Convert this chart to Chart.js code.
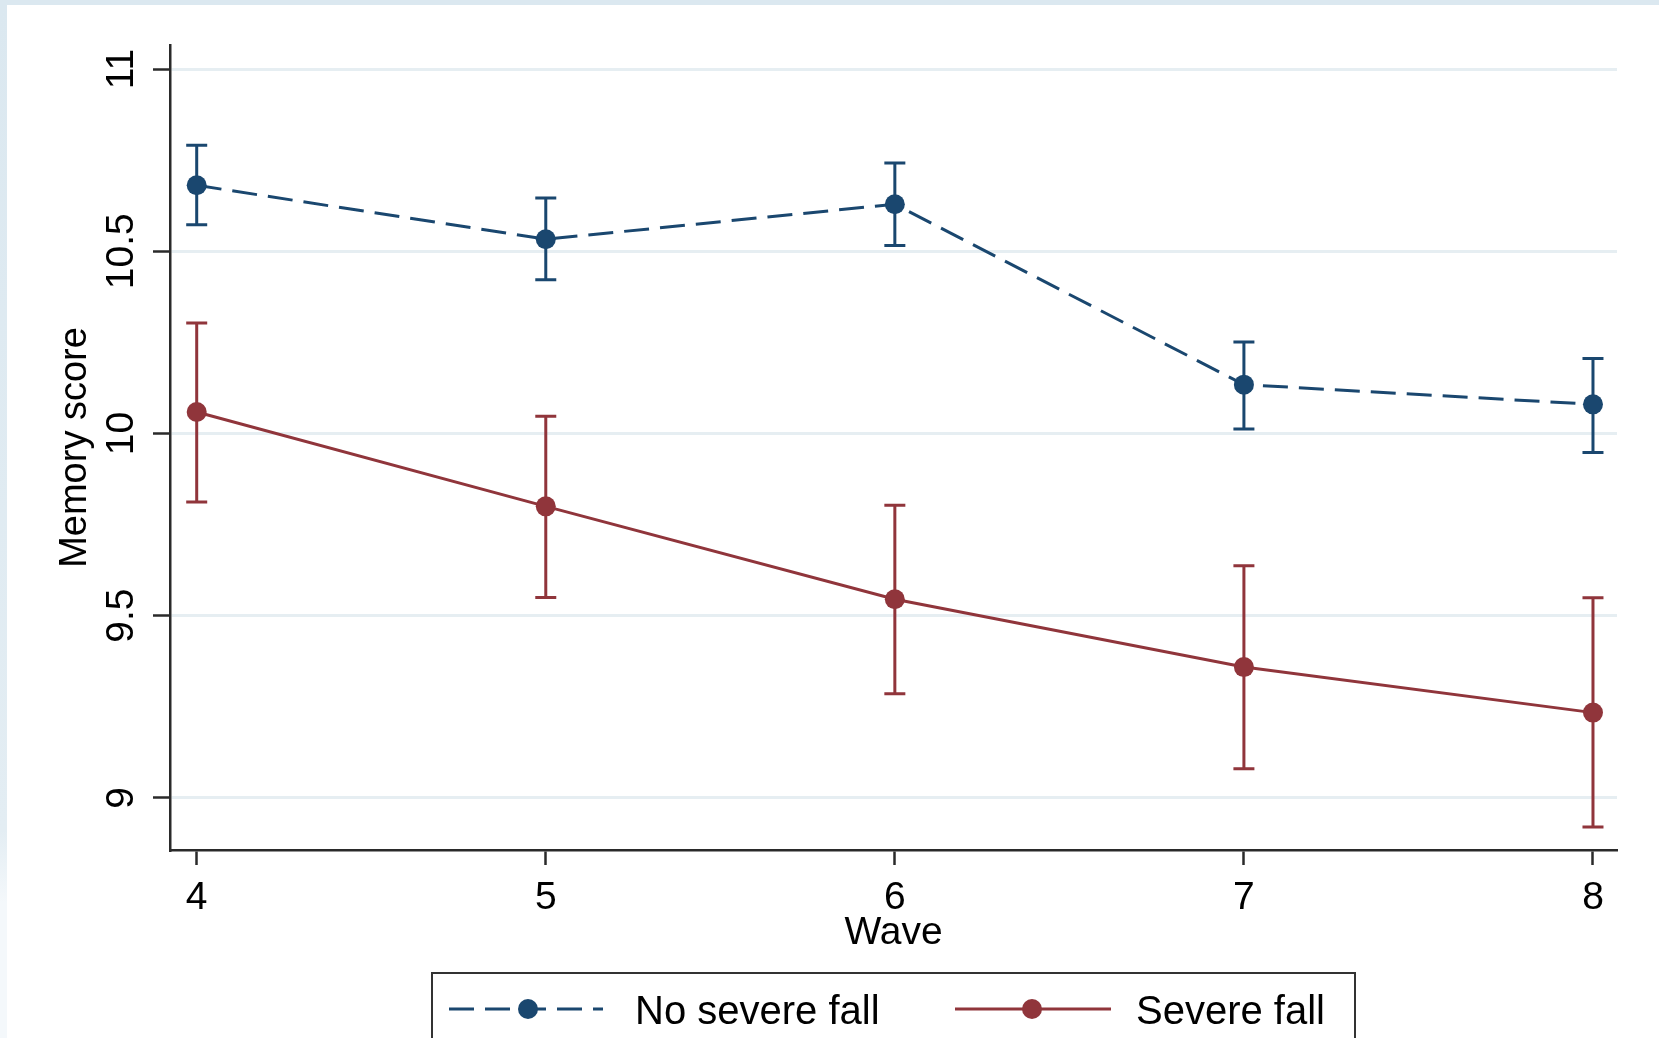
<!DOCTYPE html>
<html>
<head>
<meta charset="utf-8">
<script src="https://cdn.jsdelivr.net/npm/chart.js@4.4.1/dist/chart.umd.min.js"></script>
<style>
  html, body { margin: 0; padding: 0; background: #ffffff; }
  canvas { display: block; }
</style>
</head>
<body>
<canvas id="c" width="1659" height="1038"></canvas>
<script>
// ---- data ----
const waves = [4, 5, 6, 7, 8];
const xTicks = [4, 5, 6, 7, 8];
const yTicks = [9, 9.5, 10, 10.5, 11];
const yTickLabels = ['9', '9.5', '10', '10.5', '11'];

const noFallLabel = 'No severe fall';
const noFallMean  = [10.681, 10.533, 10.629, 10.134, 10.080];
const noFallLower = [10.573, 10.422, 10.516, 10.012, 9.948];
const noFallUpper = [10.791, 10.646, 10.742, 10.251, 10.206];

const fallLabel = 'Severe fall';
const fallMean  = [10.059, 9.800, 9.545, 9.359, 9.234];
const fallLower = [9.812, 9.550, 9.286, 9.080, 8.920];
const fallUpper = [10.303, 10.047, 9.803, 9.637, 9.549];

const xTitle = 'Wave';
const yTitle = 'Memory score';

// ---- styling ----
const NAVY = '#1a476f';
const MAROON = '#90353b';
const FONT = "'Liberation Sans', Arial, sans-serif";
const DASH = [25, 11];

const toPoints = (xs, ys) => xs.map((x, i) => ({ x: x, y: ys[i] }));

const bgPlugin = {
  id: 'bg',
  beforeDraw(chart) {
    const ctx = chart.ctx;
    ctx.save();
    ctx.fillStyle = '#ffffff';
    ctx.fillRect(0, 0, chart.width, chart.height);
    const g = ctx.createLinearGradient(0, 0, 0, chart.height);
    g.addColorStop(0, '#dbe8f0');
    g.addColorStop(0.8, '#e3edf3');
    g.addColorStop(0.87, '#f4f8fb');
    g.addColorStop(1, '#f4f8fb');
    ctx.fillStyle = g;
    ctx.fillRect(0, 0, 7, chart.height);
    ctx.fillStyle = '#dbe8f0';
    ctx.fillRect(0, 0, chart.width, 5);
    ctx.restore();
  }
};

const errorBarPlugin = {
  id: 'errbars',
  beforeDatasetsDraw(chart) {
    const ctx = chart.ctx;
    const xs = chart.scales.x, ys = chart.scales.y;
    const sets = [
      { lo: noFallLower, hi: noFallUpper, color: NAVY },
      { lo: fallLower, hi: fallUpper, color: MAROON }
    ];
    ctx.save();
    ctx.lineWidth = 3;
    ctx.lineCap = 'butt';
    sets.forEach(s => {
      ctx.strokeStyle = s.color;
      waves.forEach((w, i) => {
        const px = xs.getPixelForValue(w);
        const y1 = ys.getPixelForValue(s.lo[i]);
        const y2 = ys.getPixelForValue(s.hi[i]);
        const cap = 10.5;
        ctx.beginPath();
        ctx.moveTo(px, y1); ctx.lineTo(px, y2);
        ctx.moveTo(px - cap, y1); ctx.lineTo(px + cap, y1);
        ctx.moveTo(px - cap, y2); ctx.lineTo(px + cap, y2);
        ctx.stroke();
      });
    });
    ctx.restore();
  }
};

const legendPlugin = {
  id: 'boxLegend',
  afterDraw(chart) {
    const ctx = chart.ctx;
    ctx.save();
    ctx.strokeStyle = '#333333';
    ctx.lineWidth = 2;
    ctx.strokeRect(432, 973, 923, 110);
    const y = 1009;
    const ty = 1013;
    const items = [
      { label: chart.data.datasets[0].label, color: NAVY, dash: DASH, x0: 449, x1: 603, mx: 528, tx: 635 },
      { label: chart.data.datasets[1].label, color: MAROON, dash: [], x0: 955, x1: 1111, mx: 1032, tx: 1136 }
    ];
    items.forEach(it => {
      ctx.strokeStyle = it.color;
      ctx.lineWidth = 3;
      ctx.setLineDash(it.dash);
      ctx.beginPath();
      ctx.moveTo(it.x0, y); ctx.lineTo(it.x1, y);
      ctx.stroke();
      ctx.setLineDash([]);
      ctx.fillStyle = it.color;
      ctx.beginPath();
      ctx.arc(it.mx, y, 10, 0, Math.PI * 2);
      ctx.fill();
      ctx.fillStyle = '#000000';
      ctx.font = '40px ' + FONT;
      ctx.textAlign = 'left';
      ctx.textBaseline = 'middle';
      ctx.fillText(it.label, it.tx, ty);
    });
    ctx.restore();
  }
};

new Chart(document.getElementById('c'), {
  type: 'line',
  data: {
    datasets: [
      {
        label: noFallLabel,
        data: toPoints(waves, noFallMean),
        borderColor: NAVY,
        backgroundColor: NAVY,
        borderWidth: 3,
        borderDash: DASH,
        pointRadius: 10,
        pointBorderWidth: 0,
        pointBackgroundColor: NAVY,
        pointBorderColor: NAVY,
        tension: 0,
        fill: false
      },
      {
        label: fallLabel,
        data: toPoints(waves, fallMean),
        borderColor: MAROON,
        backgroundColor: MAROON,
        borderWidth: 3,
        pointRadius: 10,
        pointBorderWidth: 0,
        pointBackgroundColor: MAROON,
        pointBorderColor: MAROON,
        tension: 0,
        fill: false
      }
    ]
  },
  options: {
    responsive: false,
    animation: false,
    devicePixelRatio: 1,
    layout: { padding: { top: 45, right: 42, bottom: 78, left: 0 }, autoPadding: false },
    plugins: { legend: { display: false }, tooltip: { enabled: false }, title: { display: false } },
    scales: {
      x: {
        type: 'linear',
        min: 3.9235,
        max: 8.0688,
        afterBuildTicks(scale) { scale.ticks = xTicks.map(v => ({ value: v })); },
        afterFit(scale) { scale.height = 110; },
        grid: { drawOnChartArea: false, drawTicks: true, tickLength: 15, tickColor: '#2a2a2a', tickWidth: 2.5 },
        border: { display: true, color: '#2a2a2a', width: 2.5 },
        ticks: {
          color: '#000000',
          font: { family: FONT, size: 39 },
          padding: 10,
          maxRotation: 0,
          minRotation: 0,
          callback: v => String(v)
        },
        title: {
          display: true,
          text: xTitle,
          color: '#000000',
          font: { family: FONT, size: 39 },
          padding: { top: 0, bottom: 3.5 }
        }
      },
      y: {
        type: 'linear',
        min: 8.857,
        max: 11.066,
        afterBuildTicks(scale) { scale.ticks = yTicks.map(v => ({ value: v })); },
        afterFit(scale) { scale.width = 170; },
        grid: { drawOnChartArea: true, color: '#e6eef2', lineWidth: 3, drawTicks: true, tickLength: 17, tickColor: '#2a2a2a', tickWidth: 2.5 },
        border: { display: true, color: '#2a2a2a', width: 2.5 },
        ticks: {
          color: '#000000',
          font: { family: FONT, size: 39 },
          padding: -7,
          minRotation: 90,
          maxRotation: 90,
          crossAlign: 'center',
          callback: v => { const i = yTicks.indexOf(v); return i >= 0 ? yTickLabels[i] : ''; }
        },
        title: {
          display: true,
          text: yTitle,
          color: '#000000',
          font: { family: FONT, size: 38 },
          padding: { top: 53, bottom: 0 }
        }
      }
    }
  },
  plugins: [bgPlugin, errorBarPlugin, legendPlugin]
});
</script>
</body>
</html>
